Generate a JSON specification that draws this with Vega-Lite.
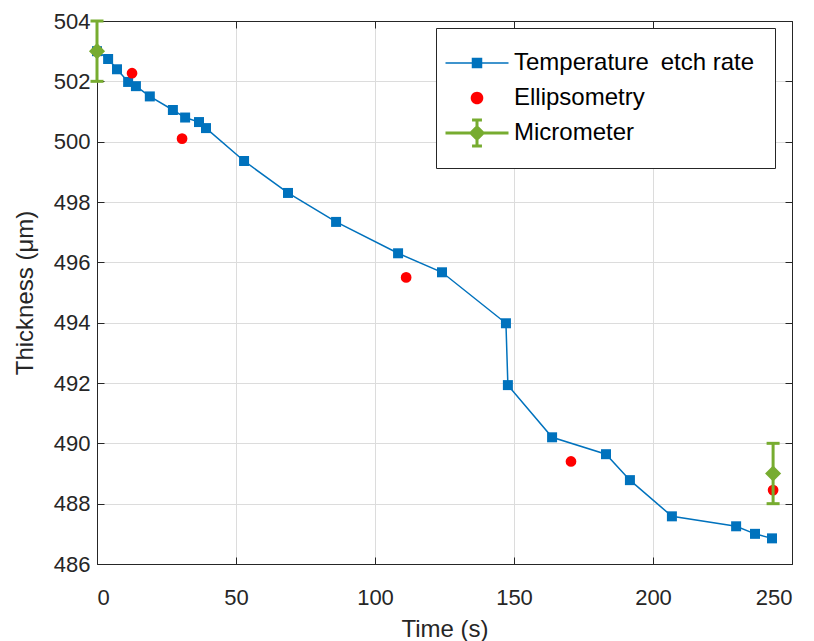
{
  "$schema": "https://vega.github.io/schema/vega-lite/v6.json",
  "width": 695,
  "height": 543,
  "autosize": {"type": "none"},
  "padding": {"left": 97, "top": 21, "right": 22, "bottom": 77},
  "background": "white",
  "config": {
    "font": "Liberation Sans",
    "view": {"stroke": "#262626", "strokeWidth": 1},
    "axis": {
      "labelFont": "Liberation Sans",
      "titleFont": "Liberation Sans",
      "labelFontSize": 22,
      "titleFontSize": 24,
      "labelColor": "#262626",
      "titleColor": "#262626",
      "titleFontWeight": "normal",
      "domainColor": "#262626",
      "tickColor": "#262626",
      "gridColor": "#dcdcdc",
      "gridWidth": 1,
      "tickSize": -7,
      "tickWidth": 1
    }
  },
  "data": {
    "values": [
      {"series": "Temperature etch rate", "t": 0, "thk": 503.0},
      {"series": "Temperature etch rate", "t": 4, "thk": 502.74},
      {"series": "Temperature etch rate", "t": 7.2, "thk": 502.4},
      {"series": "Temperature etch rate", "t": 11.2, "thk": 501.98},
      {"series": "Temperature etch rate", "t": 14, "thk": 501.84},
      {"series": "Temperature etch rate", "t": 19, "thk": 501.5},
      {"series": "Temperature etch rate", "t": 27.3, "thk": 501.05},
      {"series": "Temperature etch rate", "t": 31.7, "thk": 500.8},
      {"series": "Temperature etch rate", "t": 36.7, "thk": 500.65},
      {"series": "Temperature etch rate", "t": 39.2, "thk": 500.45},
      {"series": "Temperature etch rate", "t": 52.9, "thk": 499.36},
      {"series": "Temperature etch rate", "t": 68.7, "thk": 498.3},
      {"series": "Temperature etch rate", "t": 86, "thk": 497.34},
      {"series": "Temperature etch rate", "t": 108.3, "thk": 496.3},
      {"series": "Temperature etch rate", "t": 124.1, "thk": 495.67},
      {"series": "Temperature etch rate", "t": 147.1, "thk": 493.98},
      {"series": "Temperature etch rate", "t": 147.8, "thk": 491.93},
      {"series": "Temperature etch rate", "t": 163.7, "thk": 490.2},
      {"series": "Temperature etch rate", "t": 183.1, "thk": 489.64},
      {"series": "Temperature etch rate", "t": 191.7, "thk": 488.78},
      {"series": "Temperature etch rate", "t": 206.8, "thk": 487.58},
      {"series": "Temperature etch rate", "t": 229.9, "thk": 487.25},
      {"series": "Temperature etch rate", "t": 236.7, "thk": 487.0},
      {"series": "Temperature etch rate", "t": 242.8, "thk": 486.85},
      {"series": "Ellipsometry", "t": 0, "thk": 503.0},
      {"series": "Ellipsometry", "t": 12.6, "thk": 502.27},
      {"series": "Ellipsometry", "t": 30.6, "thk": 500.1},
      {"series": "Ellipsometry", "t": 111.2, "thk": 495.5},
      {"series": "Ellipsometry", "t": 170.5, "thk": 489.4},
      {"series": "Ellipsometry", "t": 243.2, "thk": 488.45},
      {"series": "Micrometer", "t": 0, "thk": 503.0, "lo": 502.0, "hi": 504.0},
      {"series": "Micrometer", "t": 243.2, "thk": 489.0, "lo": 488.0, "hi": 490.0}
    ]
  },
  "resolve": {"axis": {"x": "independent", "y": "independent"}},
  "layer": [
    {
      "transform": [{"filter": "datum.series === 'Temperature etch rate'"}],
      "mark": {"type": "line", "color": "#0072BD", "strokeWidth": 1.5},
      "encoding": {
        "x": {"field": "t", "type": "quantitative",
          "scale": {"domain": [0, 250], "nice": false, "zero": false},
          "axis": {"title": "Time (s)", "values": [0, 50, 100, 150, 200, 250], "grid": true, "labelPadding": 30, "titlePadding": 9}},
        "y": {"field": "thk", "type": "quantitative",
          "scale": {"domain": [486, 504], "nice": false, "zero": false},
          "axis": {"title": "Thickness (μm)", "values": [486, 488, 490, 492, 494, 496, 498, 500, 502, 504], "grid": true, "labelPadding": 14, "titlePadding": 16}}
      }
    },
    {
      "transform": [{"filter": "datum.series === 'Temperature etch rate'"}],
      "mark": {"type": "point", "shape": "square", "filled": true, "size": 100, "opacity": 1, "color": "#0072BD"},
      "encoding": {
        "x": {"field": "t", "type": "quantitative", "axis": null},
        "y": {"field": "thk", "type": "quantitative", "axis": null}
      }
    },
    {
      "transform": [{"filter": "datum.series === 'Ellipsometry'"}],
      "mark": {"type": "point", "shape": "circle", "filled": true, "size": 115, "opacity": 1, "color": "#FF0000"},
      "encoding": {
        "x": {"field": "t", "type": "quantitative", "axis": null},
        "y": {"field": "thk", "type": "quantitative", "axis": null}
      }
    },
    {
      "transform": [{"filter": "datum.series === 'Micrometer'"}],
      "mark": {"type": "rule", "color": "#77AC30", "strokeWidth": 3},
      "encoding": {
        "x": {"field": "t", "type": "quantitative", "axis": null},
        "y": {"field": "lo", "type": "quantitative", "axis": null},
        "y2": {"field": "hi"}
      }
    },
    {
      "transform": [{"filter": "datum.series === 'Micrometer'"}],
      "mark": {"type": "tick", "orient": "horizontal", "color": "#77AC30", "size": 13, "thickness": 3, "opacity": 1},
      "encoding": {
        "x": {"field": "t", "type": "quantitative", "axis": null},
        "y": {"field": "lo", "type": "quantitative", "axis": null}
      }
    },
    {
      "transform": [{"filter": "datum.series === 'Micrometer'"}],
      "mark": {"type": "tick", "orient": "horizontal", "color": "#77AC30", "size": 13, "thickness": 3, "opacity": 1},
      "encoding": {
        "x": {"field": "t", "type": "quantitative", "axis": null},
        "y": {"field": "hi", "type": "quantitative", "axis": null}
      }
    },
    {
      "transform": [{"filter": "datum.series === 'Micrometer'"}],
      "mark": {"type": "point", "shape": "diamond", "filled": true, "size": 260, "opacity": 1, "color": "#77AC30"},
      "encoding": {
        "x": {"field": "t", "type": "quantitative", "axis": null},
        "y": {"field": "thk", "type": "quantitative", "axis": null}
      }
    },
    {
      "transform": [{"filter": "datum.series === 'none'"}],
      "mark": {"type": "point", "opacity": 1, "filled": true, "strokeWidth": 0},
      "encoding": {
        "x": {"field": "t", "type": "quantitative",
          "axis": {"orient": "top", "title": null, "labels": false, "grid": false, "values": [0, 50, 100, 150, 200, 250]}},
        "y": {"field": "thk", "type": "quantitative",
          "axis": {"orient": "right", "title": null, "labels": false, "grid": false, "values": [486, 488, 490, 492, 494, 496, 498, 500, 502, 504]}},
        "color": {
          "field": "series", "type": "nominal",
          "scale": {"domain": ["Temperature etch rate", "Ellipsometry", "Micrometer"], "range": ["#0072BD", "#FF0000", "#77AC30"]},
          "legend": {
            "title": null,
            "orient": "none",
            "legendX": 339,
            "legendY": 7,
            "padding": 20,
            "strokeColor": "#262626",
            "fillColor": "white",
            "symbolSize": 900,
            "symbolOpacity": 1,
            "symbolStrokeWidth": 0,
            "symbolOffset": 6,
            "labelOffset": 22,
            "rowPadding": 8,
            "labelFontSize": 24,
            "labelFont": "Liberation Sans",
            "labelColor": "#000000",
            "labelLimit": 500,
            "labelExpr": "replace(datum.label, 'Temperature etch', 'Temperature\u2002etch')"
          }
        },
        "shape": {
          "field": "series", "type": "nominal",
          "scale": {"domain": ["Temperature etch rate", "Ellipsometry", "Micrometer"],
            "range": [
              "M-2.1,-0.05H2.1V0.05H-2.1ZM-0.35,-0.35H0.35V0.35H-0.35Z",
              "M-0.42,0A0.42,0.42,0,1,1,0.42,0A0.42,0.42,0,1,1,-0.42,0Z",
              "M-2.1,-0.1H2.1V0.1H-2.1ZM-0.1,-0.87H0.1V0.87H-0.1ZM-0.33,-0.97H0.33V-0.77H-0.33ZM-0.33,0.77H0.33V0.97H-0.33ZM0,-0.55L0.55,0L0,0.55L-0.55,0Z"
            ]},
          "legend": {"title": null}
        }
      }
    }
  ]
}
